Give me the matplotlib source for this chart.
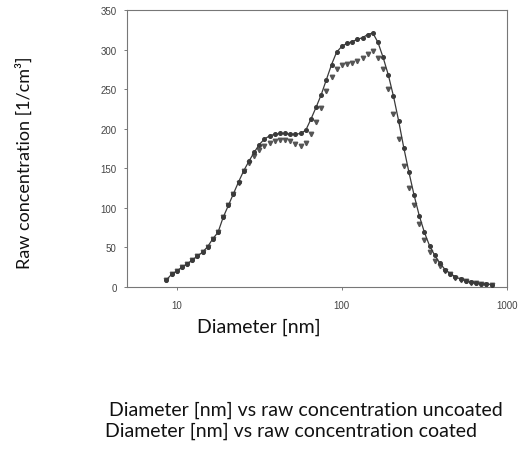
import matplotlib
matplotlib.use("Agg")
import matplotlib.pyplot as plt
from matplotlib.font_manager import FontProperties
from matplotlib.ticker import FixedLocator, FixedFormatter, NullLocator

# diameters [nm] (log-spaced channels)
diameter = [8.66, 9.31, 10.0, 10.75, 11.55, 12.41, 13.34, 14.33, 15.40, 16.55,
            17.78, 19.11, 20.54, 22.07, 23.71, 25.48, 27.38, 29.43, 31.62, 33.98,
            36.52, 39.24, 42.17, 45.32, 48.70, 52.33, 56.23, 60.43, 64.94, 69.78,
            74.99, 80.59, 86.60, 93.06, 100.0, 107.5, 115.5, 124.1, 133.4, 143.3,
            154.0, 165.5, 177.8, 191.1, 205.4, 220.7, 237.1, 254.8, 273.8, 294.3,
            316.2, 339.8, 365.2, 392.4, 421.7, 453.2, 487.0, 523.3, 562.3, 604.3,
            649.4, 697.8, 749.9, 805.9]

# raw concentration [1/cm3], uncoated
uncoated = [9, 16, 20, 25, 29, 34, 39, 44, 51, 61,
            69, 88, 103, 118, 133, 147, 159, 170, 180, 187,
            191, 193, 194, 194, 193, 193, 194, 198, 212, 227,
            243, 262, 281, 297, 304, 308, 310, 313, 315, 319,
            321, 309, 290, 268, 241, 210, 176, 145, 116, 90,
            69, 52, 40, 30, 22, 17, 13, 10, 8, 6,
            5, 4, 3.5, 3]

# raw concentration [1/cm3], coated
coated = [9, 16, 20, 25, 29, 34, 39, 44, 51, 61,
          69, 88, 103, 118, 132, 146, 157, 166, 173, 178,
          182, 185, 186, 186, 184, 181, 178, 182, 193, 208,
          226, 248, 265, 276, 281, 282, 283, 286, 289, 294,
          298, 289, 276, 250, 218, 187, 153, 125, 103, 80,
          60, 44, 33, 27, 20, 16, 12, 9, 7, 5.5,
          4.5, 3.5, 3, 2.5]

W, H = 518, 452
fig = plt.figure(figsize=(W / 100, H / 100), dpi=100)
ax = fig.add_axes([127 / W, 1 - 288 / H, 380 / W, 277 / H])

ink = "#3a3a3a"
ax.plot(diameter, uncoated, color=ink, lw=0.9, marker="o", ms=2.6,
        mfc=ink, mec=ink, zorder=3)
ax.plot(diameter, coated, ls="none", marker="v", ms=3.2,
        mfc="#555555", mec="#555555", zorder=2)

ax.set_xscale("log")
ax.set_xlim(5, 1000)
ax.set_ylim(0, 350)
ax.xaxis.set_major_locator(FixedLocator([10, 100, 1000]))
ax.xaxis.set_major_formatter(FixedFormatter(["10", "100", "1000"]))
ax.xaxis.set_minor_locator(NullLocator())
ax.set_yticks(range(0, 351, 50))

for lab in ax.get_xticklabels() + ax.get_yticklabels():
    lab.set_fontproperties(FontProperties(family="Liberation Sans", size=7))
    lab.set_color("#444444")
ax.tick_params(direction="out", length=2.5, width=0.6, color="#666666")
ax.tick_params(axis="x", pad=7)
ax.tick_params(axis="y", pad=5)
for sp in ax.spines.values():
    sp.set_color("#777777")
    sp.set_linewidth(0.8)

label_font = ["Lato", "DejaVu Sans"]
fig.text(259 / W, 1 - 327 / H, "Diameter [nm]", family=label_font, fontsize=14,
         ha="center", va="center", color="#111111")
fig.text(24 / W, 1 - 163 / H, "Raw concentration [1/cm³]", family=label_font,
         fontsize=13, rotation=90, ha="center", va="center", color="#111111")
fig.text(306 / W, 1 - 410 / H, "Diameter [nm] vs raw concentration uncoated",
         family=label_font, fontsize=14, ha="center", va="center", color="#111111")
fig.text(291 / W, 1 - 431 / H, "Diameter [nm] vs raw concentration coated",
         family=label_font, fontsize=14, ha="center", va="center", color="#111111")

fig.savefig("out.png", dpi=100)
